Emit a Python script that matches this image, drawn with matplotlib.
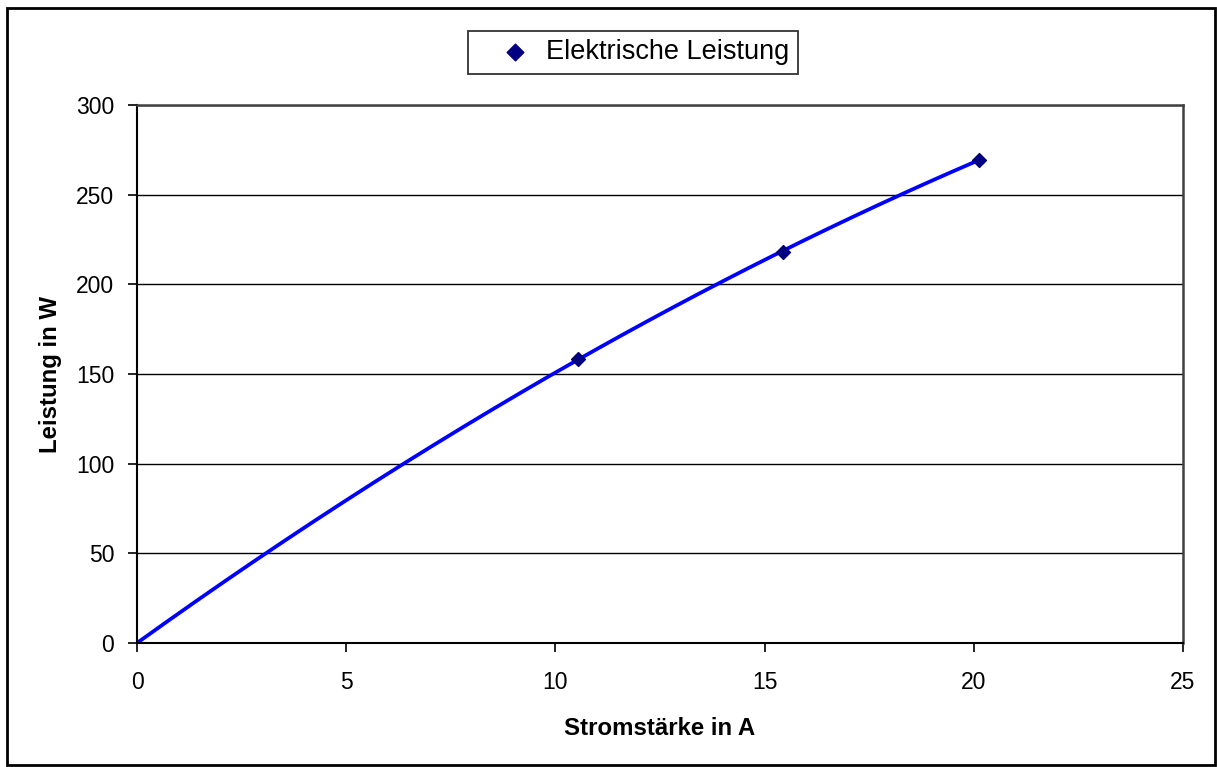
import numpy as np
import matplotlib
matplotlib.use("Agg")
import matplotlib.pyplot as plt
from matplotlib.patches import Rectangle

plt.rcParams["font.family"] = ["Liberation Sans", "DejaVu Sans"]

# Measured values: current (A) and electrical power (W)
strom = [10.54, 15.44, 20.12]
leistung = [158.4, 218.2, 269.5]

x_ticks = [0, 5, 10, 15, 20, 25]
y_ticks = [0, 50, 100, 150, 200, 250, 300]

# Quadratic trend through the origin: P = a*I + b*I^2
I = np.array(strom)
P = np.array(leistung)
A = np.column_stack([I, I**2])
coef, *_ = np.linalg.lstsq(A, P, rcond=None)
i_fit = np.linspace(0, I.max(), 200)
p_fit = coef[0] * i_fit + coef[1] * i_fit**2

fig = plt.figure(figsize=(12.17, 7.67), dpi=100)
ax = fig.add_axes([0.1126, 0.1617, 0.8594, 0.7013])

for y in y_ticks[1:]:
    ax.axhline(y, color="black", lw=1.0, zorder=1)

ax.plot(i_fit, p_fit, color="#0000FF", lw=2.7, zorder=2)
ax.scatter(strom, leistung, marker="D", s=50, color="#000080",
           zorder=3, label="Elektrische Leistung")

ax.set_xlim(0, 25)
ax.set_ylim(0, 300)
ax.set_xticks(x_ticks)
ax.set_yticks(y_ticks)
ax.tick_params(direction="out", length=6.5, width=1.2, labelsize=16.5,
               colors="black")
ax.tick_params(axis="x", pad=13.5)
ax.tick_params(axis="y", pad=10)
for side in ("top", "right"):
    ax.spines[side].set_color("#404040")
    ax.spines[side].set_linewidth(1.8)
for side in ("left", "bottom"):
    ax.spines[side].set_color("black")
    ax.spines[side].set_linewidth(1.5)

ax.set_xlabel("Stromstärke in A", fontsize=17.3, fontweight="bold", labelpad=17)
ax.set_ylabel("Leistung in W", fontsize=17.3, fontweight="bold", labelpad=10)

leg = fig.legend(loc="center", bbox_to_anchor=(0.520, 0.9316), fontsize=19.5,
                 frameon=True, fancybox=False, edgecolor="black",
                 borderpad=0.3, handlelength=2.85, handletextpad=-0.27,
                 markerscale=1.2)
leg.get_frame().set_linewidth(1.3)

# outer chart frame
fig.patches.append(Rectangle((0.006, 0.002), 0.992, 0.988, transform=fig.transFigure,
                             fill=False, edgecolor="black", lw=2.0))

fig.savefig("out.png", dpi=100)
